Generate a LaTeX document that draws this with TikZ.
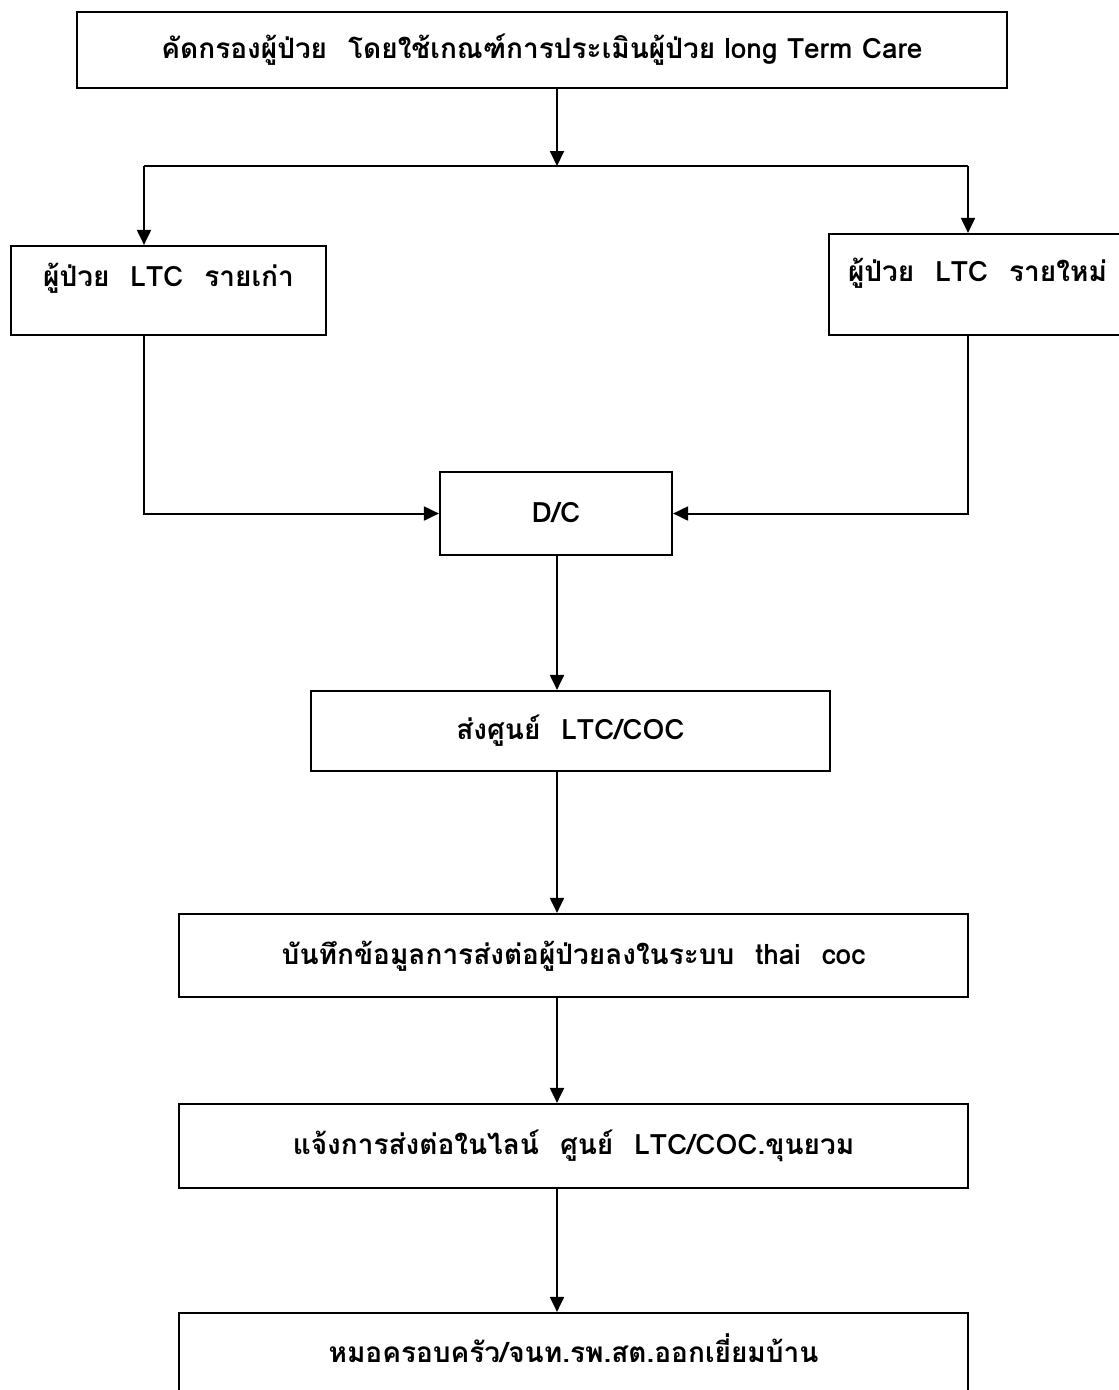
\documentclass[tikz,border=0pt]{standalone}
\usepackage{fontspec}
\newfontfamily\thaifont[Script=Thai]{Loma}
\usetikzlibrary{arrows.meta}
\newcommand\dsp{\hspace{0.75em}}
\begin{document}
\begin{tikzpicture}[x=1pt,y=-1pt,
  box/.style={draw, line width=2.2pt, inner sep=0pt, align=center,
    font=\thaifont\bfseries\fontsize{28}{32}\selectfont, text height=18pt, text depth=1pt},
  conn/.style={line width=2pt},
  arr/.style={line width=2pt, -{Triangle[length=15pt,width=14pt]}}]
\useasboundingbox (0,0) rectangle (1119,1390);
% boxes
\node[box, minimum width=930, minimum height=76] (top) at (542,50)
  {คัดกรองผู้ป่วย\dsp โดยใช้เกณฑ์การประเมินผู้ป่วย long Term Care};
\node[box, minimum width=315, minimum height=89, text depth=26pt] (old) at (168.5,290.5)
  {ผู้ป่วย\dsp LTC\dsp รายเก่า};
\node[box, minimum width=306, minimum height=101, text depth=24pt,
  align=left, text width=268pt, inner xsep=19pt] (new) at (982,284.5)
  {ผู้ป่วย\dsp LTC\dsp รายใหม่};
\node[box, minimum width=232, minimum height=83] (dc) at (556,513.5) {D/C};
\node[box, minimum width=519, minimum height=80] (send) at (570.5,731)
  {ส่งศูนย์\dsp LTC/COC};
\node[box, minimum width=789, minimum height=83] (rec) at (573.5,955.5)
  {บันทึกข้อมูลการส่งต่อผู้ป่วยลงในระบบ\dsp thai\dsp coc};
\node[box, minimum width=789, minimum height=84] (note) at (573.5,1146)
  {แจ้งการส่งต่อในไลน์\dsp ศูนย์\dsp LTC/COC.ขุนยวม};
\node[box, minimum width=789, minimum height=81] (visit) at (573.5,1353.5)
  {หมอครอบครัว/จนท.รพ.สต.ออกเยี่ยมบ้าน};
% junction coordinates
\coordinate (j) at (557,166);
\coordinate (jl) at (144,166);
\coordinate (jr) at (968,166);
\coordinate (ax) at (557,0);
% connectors
\draw[arr] (j |- top.south) -- (j);
\draw[conn] (jl) -- (jr);
\draw[arr] (jl) -- (jl |- old.north);
\draw[arr] (jr) -- (jr |- new.north);
\draw[arr] (jl |- old.south) -- (jl |- dc.west) -- (dc.west);
\draw[arr] (jr |- new.south) -- (jr |- dc.east) -- (dc.east);
\draw[arr] (ax |- dc.south) -- (ax |- send.north);
\draw[arr] (ax |- send.south) -- (ax |- rec.north);
\draw[arr] (ax |- rec.south) -- (ax |- note.north);
\draw[arr] (ax |- note.south) -- (ax |- visit.north);
\end{tikzpicture}
\end{document}
